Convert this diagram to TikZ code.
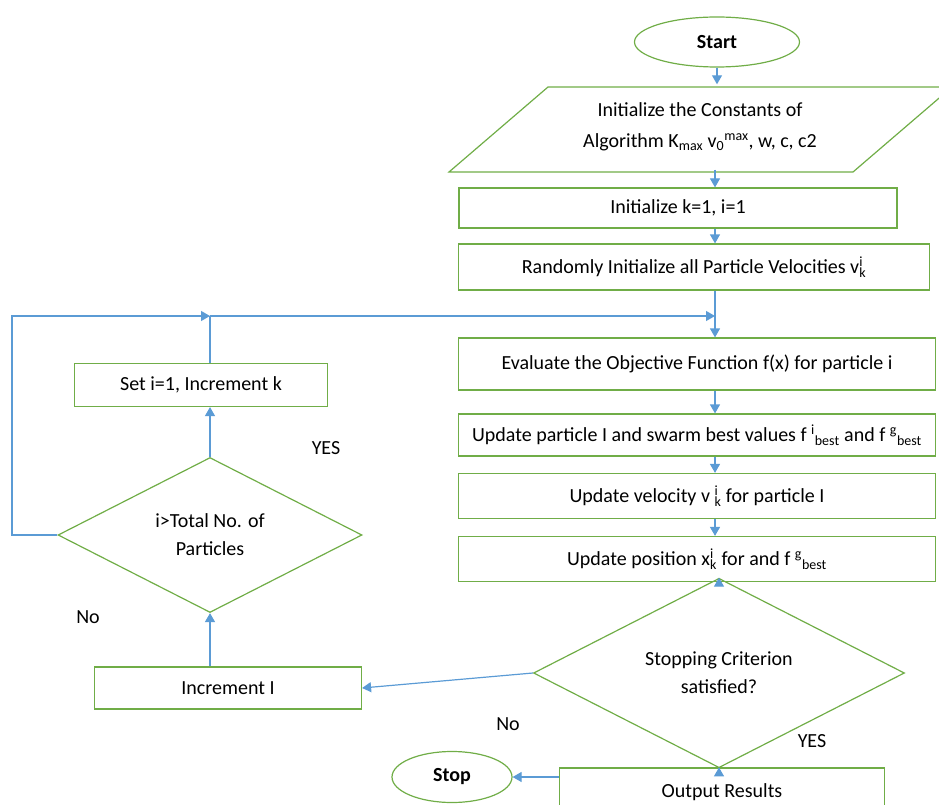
\documentclass[tikz,border=0pt]{standalone}
\usepackage{fontspec}
\setmainfont{Carlito}
\usetikzlibrary{shapes.geometric,arrows.meta}

\definecolor{boxgreen}{HTML}{70AD47}
\definecolor{flowblue}{HTML}{5B9BD5}
\newcommand{\stacked}[2]{\rlap{\textsuperscript{#1}}\textsubscript{#2}}

\begin{document}
\begin{tikzpicture}[x=1pt,y=-1pt,font=\fontsize{20}{24}\selectfont]
    \tikzstyle{block}=[draw=boxgreen,line width=1.2pt,inner sep=0pt,align=center]
    \tikzstyle{process}=[block,rectangle]
    \tikzstyle{terminal}=[block,ellipse,font=\fontsize{20}{24}\selectfont\bfseries]
    \tikzstyle{decision}=[block,diamond,font=\fontsize{20}{28}\selectfont]
    \tikzstyle{annot}=[inner sep=0pt]
    \tikzstyle{edge}=[draw=flowblue,line width=1.2pt,-{Triangle[length=9pt,width=10pt]}]
    \tikzstyle{link}=[draw=flowblue,line width=1.2pt]

    \useasboundingbox (0,0) rectangle (939,805);

    % right column
    \node[terminal,minimum width=165,minimum height=50] (start) at (717,42) {Start};
    \draw[block] (449,172) -- (548,87) -- (952,87) -- (853,172) -- cycle;
    \node[align=center,inner sep=0pt,minimum width=300,minimum height=85,
          font=\fontsize{20}{31}\selectfont] (init) at (700,127)
        {Initialize the Constants of\\Algorithm K\textsubscript{max} v\textsubscript{0}\textsuperscript{max}, w, c, c2};
    \node[process,minimum width=438,minimum height=40] (initk) at (678,208) {Initialize k=1, i=1};
    \node[process,minimum width=471,minimum height=46] (randv) at (694,267)
        {Randomly Initialize all Particle Velocities v\stacked{i}{k}};
    \node[process,minimum width=477,minimum height=52] (evalf) at (697,364)
        {Evaluate the Objective Function f(x) for particle i};
    \node[process,minimum width=477,minimum height=42] (updbest) at (697,435)
        {Update particle I and swarm best values f \textsuperscript{i}\textsubscript{best} and f \textsuperscript{g}\textsubscript{best}};
    \node[process,minimum width=477,minimum height=45] (updvel) at (697,496)
        {Update velocity v \stacked{i}{k} for particle I};
    \node[process,minimum width=477,minimum height=45] (updpos) at (697,559)
        {Update position x\stacked{i}{k} for and f \textsuperscript{g}\textsubscript{best}};
    \node[decision,minimum width=371,minimum height=144] (stopcrit) at (719,673)
        {Stopping Criterion\\satisfied?};
    \node[process,minimum width=325,minimum height=48] (output) at (722,792) {Output Results};
    \node[terminal,minimum width=120,minimum height=51] (stop) at (452,777) {Stop};

    % left column
    \node[process,minimum width=267,minimum height=42] (incr) at (228,688) {Increment I};
    \node[decision,minimum width=304,minimum height=155] (check) at (210,535)
        {i\textgreater Total No. of\\Particles};
    \node[process,minimum width=253,minimum height=43] (setk) at (201,385) {Set i=1, Increment k};

    \coordinate (loopL) at (12,316);
    \coordinate (merge) at (210,316);
    \coordinate (join) at (715,316);

    % labels
    \node[annot] (yesL) at (326,448) {YES};
    \node[annot] (noL) at (88,617) {No};
    \node[annot] (noR) at (508,724) {No};
    \node[annot] (yesR) at (812,741) {YES};

    % connectors
    \draw[edge] (start.south) -- (start.south |- init.north);
    \draw[edge] (init.south -| join) -- (join |- initk.north);
    \draw[edge] (initk.south -| join) -- (join |- randv.north);
    \draw[edge] (randv.south -| join) -- (join |- evalf.north);
    \draw[edge] (evalf.south -| join) -- (join |- updbest.north);
    \draw[edge] (updbest.south -| join) -- (join |- updvel.north);
    \draw[edge] (updvel.south -| join) -- (join |- updpos.north);
    \draw[edge] (updpos.south -| stopcrit.north) -- (stopcrit.north);
    \draw[edge] (stopcrit.south) -- (stopcrit.south |- output.north);
    \draw[edge] (stop.east -| output.west) -- (stop.east);
    \draw[edge] (stopcrit.west) -- (incr.east);
    \draw[edge] (incr.north -| check.south) -- (check.south);
    \draw[edge] (check.north) -- (check.north |- setk.south);
    \draw[link] (setk.north -| merge) -- (merge);
    \draw[edge] (check.west) -| (loopL) -- (merge);
    \draw[edge] (merge) -- (join);
\end{tikzpicture}
\end{document}
